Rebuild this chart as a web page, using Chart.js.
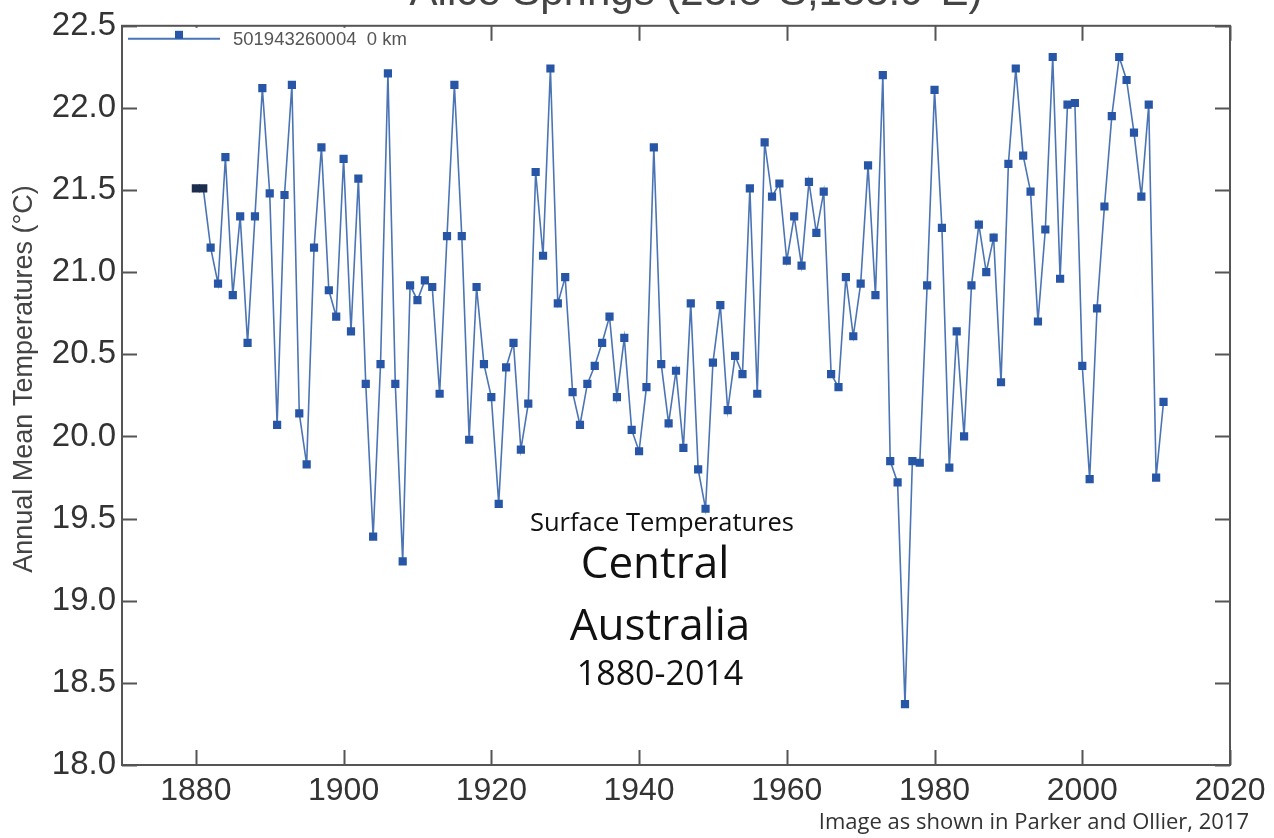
<!DOCTYPE html>
<html>
<head>
<meta charset="utf-8">
<script src="https://cdn.jsdelivr.net/npm/chart.js@4.4.1/dist/chart.umd.min.js"></script>
<style>
html,body{margin:0;padding:0;background:#fff;}
#wrap{width:1274px;height:838px;position:relative;}
</style>
</head>
<body>
<div id="wrap"><canvas id="c" width="1274" height="838"></canvas></div>
<script>
const chartTitle = 'Alice Springs (23.8°S,133.9°E)';
const seriesLabel = '501943260004  0 km';
const yAxisTitle = 'Annual Mean Temperatures (°C)';
const caption = 'Image as shown in Parker and Ollier, 2017';
const annotationLines = ['Surface Temperatures', 'Central', 'Australia', '1880-2014'];

const years = [];
for (let y = 1880; y <= 2011; y++) years.push(y);

const temps = [
  21.51, 21.51, 21.15, 20.93, 21.70, 20.86, 21.34, 20.57, 21.34, 22.12,
  21.48, 20.07, 21.47, 22.14, 20.14, 19.83, 21.15, 21.76, 20.89, 20.73,
  21.69, 20.64, 21.57, 20.32, 19.39, 20.44, 22.21, 20.32, 19.24, 20.92,
  20.83, 20.95, 20.91, 20.26, 21.22, 22.14, 21.22, 19.98, 20.91, 20.44,
  20.24, 19.59, 20.42, 20.57, 19.92, 20.20, 21.61, 21.10, 22.24, 20.81,
  20.97, 20.27, 20.07, 20.32, 20.43, 20.57, 20.73, 20.24, 20.60, 20.04,
  19.91, 20.30, 21.76, 20.44, 20.08, 20.40, 19.93, 20.81, 19.80, 19.56,
  20.45, 20.80, 20.16, 20.49, 20.38, 21.51, 20.26, 21.79, 21.46, 21.54,
  21.07, 21.34, 21.04, 21.55, 21.24, 21.49, 20.38, 20.30, 20.97, 20.61,
  20.93, 21.65, 20.86, 22.20, 19.85, 19.72, 18.37, 19.85, 19.84, 20.92,
  22.11, 21.27, 19.81, 20.64, 20.00, 20.92, 21.29, 21.00, 21.21, 20.33,
  21.66, 22.24, 21.71, 21.49, 20.70, 21.26, 22.31, 20.96, 22.02, 22.03,
  20.43, 19.74, 20.78, 21.40, 21.95, 22.31, 22.17, 21.85, 21.46, 22.02,
  19.75, 20.21
];

const xTicks = [1880, 1900, 1920, 1940, 1960, 1980, 2000, 2020];
const yTicks = [18.0, 18.5, 19.0, 19.5, 20.0, 20.5, 21.0, 21.5, 22.0, 22.5];

const lineColor = '#4a74b4';
const markerColor = '#2756a6';
const frameColor = '#555555';

const points = years.map((y, i) => ({ x: y, y: temps[i] }));
const markerFill = years.map((y, i) => i < 2 ? '#1d2d4d' : markerColor);

const decorPlugin = {
  id: 'decor',
  afterDraw(chart) {
    const ctx = chart.ctx;
    const a = chart.chartArea;
    const xs = chart.scales.x, ys = chart.scales.y;
    ctx.save();
    // frame
    ctx.strokeStyle = frameColor;
    ctx.lineWidth = 2;
    ctx.strokeRect(a.left, a.top, a.right - a.left, a.bottom - a.top);
    // inward ticks
    const tl = 15;
    ctx.beginPath();
    xTicks.forEach(v => {
      const px = Math.round(xs.getPixelForValue(v)) + 0.5;
      ctx.moveTo(px, a.bottom); ctx.lineTo(px, a.bottom - tl);
      ctx.moveTo(px, a.top); ctx.lineTo(px, a.top + tl);
    });
    yTicks.forEach(v => {
      const py = Math.round(ys.getPixelForValue(v)) + 0.5;
      ctx.moveTo(a.left, py); ctx.lineTo(a.left + tl, py);
      ctx.moveTo(a.right, py); ctx.lineTo(a.right - tl, py);
    });
    ctx.stroke();

    // legend (inside plot, top-left)
    ctx.fillStyle = '#fff';
    ctx.fillRect(a.left + 2, a.top + 2, 300, 22);
    ctx.strokeStyle = lineColor;
    ctx.lineWidth = 2;
    ctx.beginPath();
    ctx.moveTo(a.left + 6, a.top + 13);
    ctx.lineTo(a.left + 98, a.top + 13);
    ctx.stroke();
    ctx.fillStyle = markerColor;
    ctx.fillRect(a.left + 53, a.top + 5, 8, 8);
    ctx.fillStyle = '#555';
    ctx.font = '18.5px "Liberation Sans", Arial, sans-serif';
    ctx.textBaseline = 'middle';
    ctx.textAlign = 'left';
    ctx.fillText(seriesLabel, a.left + 111, a.top + 14);

    // title, cut at top edge
    ctx.fillStyle = '#444';
    ctx.font = '42px "Liberation Sans", Arial, sans-serif';
    ctx.textAlign = 'center';
    ctx.textBaseline = 'alphabetic';
    ctx.fillText(chartTitle, 696, 5);

    // y-axis title
    ctx.save();
    ctx.translate(32, 379);
    ctx.rotate(-Math.PI / 2);
    ctx.fillStyle = '#444';
    ctx.font = '27px "Liberation Sans", Arial, sans-serif';
    ctx.textAlign = 'center';
    ctx.textBaseline = 'alphabetic';
    ctx.fillText(yAxisTitle, 0, 0);
    ctx.restore();

    // annotation block
    ctx.fillStyle = '#111';
    ctx.textAlign = 'center';
    ctx.textBaseline = 'alphabetic';
    ctx.font = '25.5px "Open Sans", sans-serif';
    ctx.fillText(annotationLines[0], 662, 531);
    ctx.font = '44px "Open Sans", sans-serif';
    ctx.fillText(annotationLines[1], 655, 578);
    ctx.fillText(annotationLines[2], 660, 640);
    ctx.font = '34px "Open Sans", sans-serif';
    ctx.fillText(annotationLines[3], 660, 685);

    // caption
    ctx.fillStyle = '#333';
    ctx.font = '22px "Open Sans", sans-serif';
    ctx.textAlign = 'right';
    ctx.fillText(caption, 1249, 829);
    ctx.restore();
  }
};

new Chart(document.getElementById('c'), {
  type: 'line',
  data: {
    datasets: [{
      label: seriesLabel,
      data: points,
      borderColor: lineColor,
      borderWidth: 1.6,
      tension: 0,
      pointStyle: 'rect',
      pointRadius: 5.8,
      pointBorderWidth: 0,
      pointBackgroundColor: markerFill,
      pointBorderColor: markerFill
    }]
  },
  options: {
    responsive: false,
    animation: false,
    devicePixelRatio: 1,
    layout: { padding: { top: 22, right: 44, left: 0, bottom: 0 } },
    plugins: { legend: { display: false }, tooltip: { enabled: false }, title: { display: false } },
    scales: {
      x: {
        type: 'linear',
        min: 1870, max: 2020,
        afterBuildTicks(s) { s.ticks = xTicks.map(v => ({ value: v })); },
        afterFit(s) { s.height = 73; },
        grid: { display: false, drawTicks: false },
        border: { display: false },
        ticks: {
          padding: 7,
          color: '#333',
          font: { family: '"Liberation Sans", Arial, sans-serif', size: 32 },
          maxRotation: 0,
          callback: v => String(v)
        }
      },
      y: {
        type: 'linear',
        min: 18, max: 22.5,
        afterBuildTicks(s) { s.ticks = yTicks.map(v => ({ value: v })); },
        afterFit(s) { s.width = 122; },
        grid: { display: false, drawTicks: false },
        border: { display: false },
        ticks: {
          padding: 6,
          color: '#333',
          font: { family: '"Liberation Sans", Arial, sans-serif', size: 33 },
          callback: v => Number(v).toFixed(1)
        }
      }
    }
  },
  plugins: [decorPlugin]
});
</script>
</body>
</html>
